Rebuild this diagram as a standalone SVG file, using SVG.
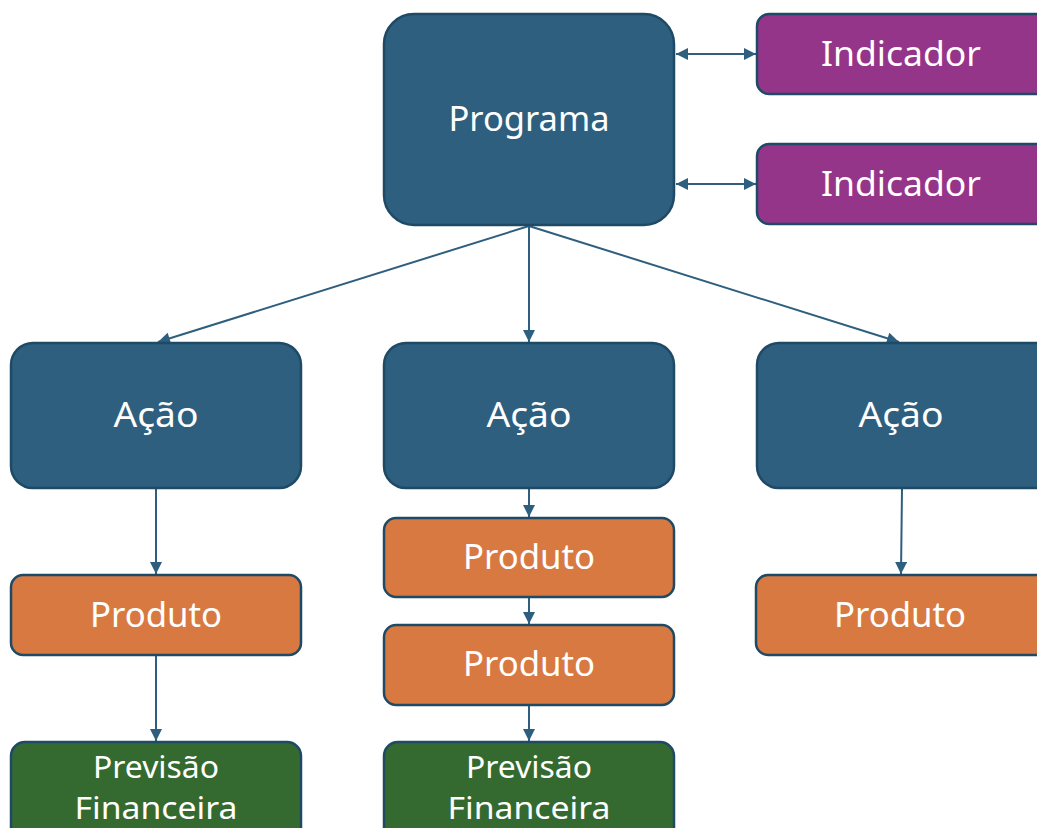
<svg xmlns="http://www.w3.org/2000/svg" width="1037" height="828" viewBox="0 0 1037 828">
<defs>
<marker id="ah" viewBox="0 0 10 10" refX="10" refY="5" markerWidth="6.5" markerHeight="6" orient="auto-start-reverse" markerUnits="strokeWidth">
<path d="M0,0 L10,5 L0,10 z" fill="#2E5F7F"/>
</marker>
<style>
.n{stroke:#1F4A66;stroke-width:2.5}
.blue{fill:#2E5F7F}
.purple{fill:#953589}
.orange{fill:#D97942}
.green{fill:#346A2F}
.t{fill:#fff;font-family:"Noto Sans","Open Sans","Liberation Sans",sans-serif;text-anchor:middle}
.c{stroke:#2E5F7F;stroke-width:2;fill:none;marker-end:url(#ah)}
</style>
</defs>
<rect width="1037" height="828" fill="#fff"/>
<g id="connectors">
<line class="c" x1="676" y1="54" x2="756" y2="54" style="marker-start:url(#ah)"/>
<line class="c" x1="676" y1="184" x2="756" y2="184" style="marker-start:url(#ah)"/>
<line class="c" x1="529" y1="226" x2="158" y2="342"/>
<line class="c" x1="529" y1="226" x2="529" y2="342"/>
<line class="c" x1="529" y1="226" x2="899" y2="342"/>
<line class="c" x1="156" y1="489" x2="156" y2="574"/>
<line class="c" x1="156" y1="656" x2="156" y2="741"/>
<line class="c" x1="529" y1="489" x2="529" y2="517"/>
<line class="c" x1="529" y1="598" x2="529" y2="624"/>
<line class="c" x1="529" y1="706" x2="529" y2="741"/>
<line class="c" x1="902" y1="489" x2="901" y2="574"/>
</g>
<g id="programa"><rect class="n blue" x="384" y="14" width="290" height="211" rx="30"/><text class="t" x="529" y="131" font-size="34" textLength="161" lengthAdjust="spacingAndGlyphs">Programa</text></g>
<g id="indicador1"><rect class="n purple" x="757" y="14" width="300" height="80" rx="12"/><text class="t" x="901" y="66" font-size="34" textLength="160" lengthAdjust="spacingAndGlyphs">Indicador</text></g>
<g id="indicador2"><rect class="n purple" x="757" y="144" width="300" height="80" rx="12"/><text class="t" x="901" y="196" font-size="34" textLength="160" lengthAdjust="spacingAndGlyphs">Indicador</text></g>
<g id="acao1"><rect class="n blue" x="11" y="343" width="290" height="145" rx="22"/><text class="t" x="156" y="427" font-size="34" textLength="85" lengthAdjust="spacingAndGlyphs">Ação</text></g>
<g id="acao2"><rect class="n blue" x="384" y="343" width="290" height="145" rx="22"/><text class="t" x="529" y="427" font-size="34" textLength="85" lengthAdjust="spacingAndGlyphs">Ação</text></g>
<g id="acao3"><rect class="n blue" x="757" y="343" width="300" height="145" rx="22"/><text class="t" x="901" y="427" font-size="34" textLength="85" lengthAdjust="spacingAndGlyphs">Ação</text></g>
<g id="produto1"><rect class="n orange" x="11" y="575" width="290" height="80" rx="12"/><text class="t" x="156" y="627" font-size="34" textLength="132" lengthAdjust="spacingAndGlyphs">Produto</text></g>
<g id="produto2"><rect class="n orange" x="384" y="518" width="290" height="79" rx="12"/><text class="t" x="529" y="569" font-size="34" textLength="132" lengthAdjust="spacingAndGlyphs">Produto</text></g>
<g id="produto3"><rect class="n orange" x="384" y="625" width="290" height="80" rx="12"/><text class="t" x="529" y="676" font-size="34" textLength="132" lengthAdjust="spacingAndGlyphs">Produto</text></g>
<g id="produto4"><rect class="n orange" x="756" y="575" width="300" height="80" rx="12"/><text class="t" x="900" y="627" font-size="34" textLength="132" lengthAdjust="spacingAndGlyphs">Produto</text></g>
<g id="previsao1"><rect class="n green" x="11" y="742" width="290" height="110" rx="14"/><text class="t" x="156" y="778" font-size="30" textLength="126" lengthAdjust="spacingAndGlyphs">Previsão</text><text class="t" x="156" y="819" font-size="30" textLength="163" lengthAdjust="spacingAndGlyphs">Financeira</text></g>
<g id="previsao2"><rect class="n green" x="384" y="742" width="290" height="110" rx="14"/><text class="t" x="529" y="778" font-size="30" textLength="126" lengthAdjust="spacingAndGlyphs">Previsão</text><text class="t" x="529" y="819" font-size="30" textLength="163" lengthAdjust="spacingAndGlyphs">Financeira</text></g>
</svg>
